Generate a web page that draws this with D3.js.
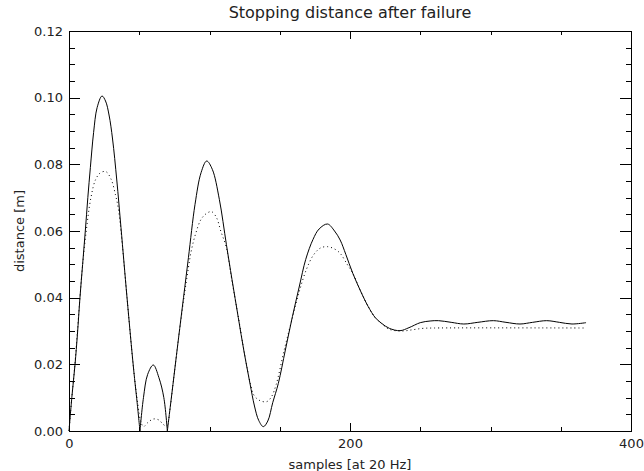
<!DOCTYPE html>
<html>
<head>
<meta charset="utf-8">
<script src="https://cdn.jsdelivr.net/npm/d3@7"></script>
<style>
    body { margin: 0; background: #fff; }
    text { font-family: "DejaVu Sans", sans-serif; fill: #222; }
</style>
</head>
<body>
<div id="chart"></div>
<script>
'use strict';

// solid curve (sample index, distance in m)
var solidSamples  = [0, 2, 4.3, 6, 7.8, 9.7, 11.6, 13.4, 15.2, 17.5, 20, 23.5, 26, 28.5, 31, 34, 37, 41.3, 46, 48.5, 50.5,
                     53, 56, 60, 64, 67.5, 70,
                     72, 74, 76, 78, 81.5, 85, 89.7, 94, 98, 102, 107, 112, 116, 120.5, 124.5, 128.8, 132, 135, 138.3,
                     141.5, 145, 149, 154, 159, 164, 168.5, 173.7, 178, 184, 189, 193, 197, 202, 207.5, 213, 218, 222.5,
                     228, 235.6, 242, 250, 257, 263, 272, 281, 291, 302, 311, 321, 330, 340, 349, 358, 368];
var solidDistance = [0, 0.010, 0.020, 0.029, 0.040, 0.050, 0.060, 0.070, 0.079, 0.0895, 0.097, 0.1005, 0.099, 0.0948, 0.0876, 0.0753, 0.061, 0.040, 0.0185, 0.0085, 0,
                     0.010, 0.017, 0.0198, 0.016, 0.010, 0,
                     0.007, 0.014, 0.021, 0.028, 0.040, 0.052, 0.068, 0.0775, 0.081, 0.0785, 0.0695, 0.056, 0.0455, 0.034, 0.024, 0.0143, 0.0075, 0.0032, 0.0013,
                     0.003, 0.0085, 0.0143, 0.0243, 0.0343, 0.0435, 0.0515, 0.0575, 0.0606, 0.0621, 0.060, 0.0573, 0.053, 0.0473, 0.042, 0.0373, 0.034, 0.0323,
                     0.0308, 0.0301, 0.0310, 0.0325, 0.0330, 0.0331, 0.0326, 0.0321, 0.0326, 0.0331, 0.0326, 0.0321, 0.0326, 0.0331, 0.0326, 0.0321, 0.0325];
// sharp corners of the solid curve, where it touches zero
var solidCusps = [50.5, 70];

// dotted curve
var dottedSamples  = [0, 2, 4.2, 6, 7.8, 9.5, 12, 15.6, 19, 22.5, 26.3, 30, 33, 35, 37, 41.3, 46, 49, 51,
                      53, 56, 60, 64, 67, 69.5,
                      72, 74, 76, 78, 81.5, 85, 87, 90, 94, 98, 101.5, 105, 108, 112, 116, 120.8, 125, 129.5, 132, 136, 140.7,
                      144, 147.5, 153, 159, 164, 169, 174, 179, 184, 189, 193, 198, 202, 207.5, 213, 218, 222.5,
                      228, 237, 245, 252, 260, 368];
var dottedDistance = [0, 0.010, 0.020, 0.030, 0.040, 0.049, 0.059, 0.070, 0.0755, 0.0775, 0.0778, 0.0755, 0.071, 0.067, 0.060, 0.040, 0.0185, 0.008, 0.003,
                      0.0013, 0.0025, 0.0036, 0.0033, 0.002, 0.0015,
                      0.007, 0.014, 0.021, 0.028, 0.039, 0.049, 0.054, 0.059, 0.0635, 0.0653, 0.0658, 0.064, 0.060, 0.055, 0.045, 0.0335, 0.023, 0.0135, 0.0105, 0.0091, 0.0088,
                      0.0102, 0.0140, 0.024, 0.034, 0.042, 0.0485, 0.0528, 0.0549, 0.0553, 0.0546, 0.0533, 0.050, 0.0473, 0.042, 0.0373, 0.034, 0.0322,
                      0.0305, 0.0300, 0.0304, 0.0308, 0.0309, 0.0309];
var dottedCusps = [];

var xMajorTicks = [0, 200, 400];
var xMinorTicks = [0, 50, 100, 150, 200, 250, 300, 350, 400];
var yMajorTicks = [0, 0.02, 0.04, 0.06, 0.08, 0.10, 0.12];
var yMinorTicks = d3.range(0, 0.1201, 0.005);

var titleText  = 'Stopping distance after failure';
var xAxisTitle = 'samples [at 20 Hz]';
var yAxisTitle = 'distance [m]';

function stoppingPlot()
{
    var scope = this;
    var exports = {};

    scope.width   = 644;
    scope.height  = 471;
    scope.margins = {top: 31, bottom: 40, left: 69, right: 13};
    scope.cw = scope.width - scope.margins.left - scope.margins.right;
    scope.ch = scope.height - scope.margins.top - scope.margins.bottom;

    scope.xScale = d3.scaleLinear().domain([0, 400]).range([0, scope.cw]);
    scope.yScale = d3.scaleLinear().domain([0, 0.12]).range([scope.ch, 0]);

    scope.appendSvg = function(div)
    {
        return d3.select(div).append('svg')
            .attr('width', scope.width)
            .attr('height', scope.height);
    }

    scope.appendChartGroup = function(svg)
    {
        return svg.append('g')
            .attr('transform', 'translate(' + scope.margins.left + ',' + scope.margins.top + ')');
    }

    scope.tickGroup = function(cht, axis, tx, ty)
    {
        var g = cht.append('g')
            .attr('transform', 'translate(' + tx + ',' + ty + ')')
            .call(axis);
        g.select('.domain').remove();
        g.selectAll('line').attr('stroke', '#000').attr('shape-rendering', 'crispEdges');
        g.selectAll('text').attr('font-size', 13).attr('font-family', '"DejaVu Sans", sans-serif').attr('fill', '#222');
        return g;
    }

    scope.createAxes = function(cht)
    {
        var xs = scope.xScale, ys = scope.yScale, none = function(){ return ''; };

        // minor ticks on all four sides
        scope.tickGroup(cht, d3.axisBottom(xs).tickValues(xMinorTicks).tickSize(-4).tickFormat(none), 0, scope.ch);
        scope.tickGroup(cht, d3.axisTop(xs).tickValues(xMinorTicks).tickSize(-4).tickFormat(none), 0, 0);
        scope.tickGroup(cht, d3.axisLeft(ys).tickValues(yMinorTicks).tickSize(-5.5).tickFormat(none), 0, 0);
        scope.tickGroup(cht, d3.axisRight(ys).tickValues(yMinorTicks).tickSize(-5.5).tickFormat(none), scope.cw, 0);

        // major ticks
        scope.tickGroup(cht, d3.axisBottom(xs).tickValues(xMajorTicks).tickSize(-8).tickPadding(8).tickFormat(d3.format('d')), 0, scope.ch);
        scope.tickGroup(cht, d3.axisTop(xs).tickValues(xMajorTicks).tickSize(-8).tickFormat(none), 0, 0);
        scope.tickGroup(cht, d3.axisLeft(ys).tickValues(yMajorTicks).tickSize(-11).tickPadding(6).tickFormat(d3.format('.2f')), 0, 0);
        scope.tickGroup(cht, d3.axisRight(ys).tickValues(yMajorTicks).tickSize(-11).tickFormat(none), scope.cw, 0);

        cht.append('rect')
            .attr('x', 0.5).attr('y', 0.5)
            .attr('width', scope.cw).attr('height', scope.ch)
            .attr('fill', 'none').attr('stroke', '#000').attr('stroke-width', 1);
    }

    // split the knots at the cusps so each piece can be smoothed on its own
    scope.splitAt = function(xs, ys, cusps)
    {
        var pieces = [[]];
        for (var i = 0; i < xs.length; i++) {
            pieces[pieces.length - 1].push([xs[i], ys[i]]);
            if (cusps.indexOf(xs[i]) >= 0 && i < xs.length - 1) {
                pieces.push([[xs[i], ys[i]]]);
            }
        }
        return pieces;
    }

    scope.appendLine = function(cht, xs, ys, cusps, dash)
    {
        var line = d3.line()
            .x(function(d){ return scope.xScale(d[0]); })
            .y(function(d){ return scope.yScale(d[1]); })
            .curve(d3.curveCatmullRom.alpha(0.5));

        var d = scope.splitAt(xs, ys, cusps).map(function(p){ return line(p); }).join('');

        return cht.append('path')
            .attr('d', d)
            .attr('fill', 'none')
            .attr('stroke', '#000')
            .attr('stroke-width', 1)
            .attr('stroke-dasharray', dash);
    }

    scope.appendTexts = function(svg)
    {
        svg.append('text')
            .attr('x', scope.margins.left + scope.cw / 2).attr('y', 18)
            .attr('text-anchor', 'middle').attr('font-size', 16)
            .text(titleText);

        svg.append('text')
            .attr('x', scope.margins.left + scope.cw / 2).attr('y', 469)
            .attr('text-anchor', 'middle').attr('font-size', 13)
            .text(xAxisTitle);

        svg.append('text')
            .attr('transform', 'translate(24,' + (scope.margins.top + scope.ch / 2) + ') rotate(-90)')
            .attr('text-anchor', 'middle').attr('font-size', 13)
            .text(yAxisTitle);
    }

    //------------- exported API -----------------------------------

    exports.run = function(div)
    {
        var svg = scope.appendSvg(div);
        var cht = scope.appendChartGroup(svg);

        scope.appendLine(cht, dottedSamples, dottedDistance, dottedCusps, '1,3');
        scope.appendLine(cht, solidSamples, solidDistance, solidCusps, null);
        scope.createAxes(cht);
        scope.appendTexts(svg);
    }

    return exports;
};

var plot = stoppingPlot.call({});
plot.run('#chart');
</script>
</body>
</html>
